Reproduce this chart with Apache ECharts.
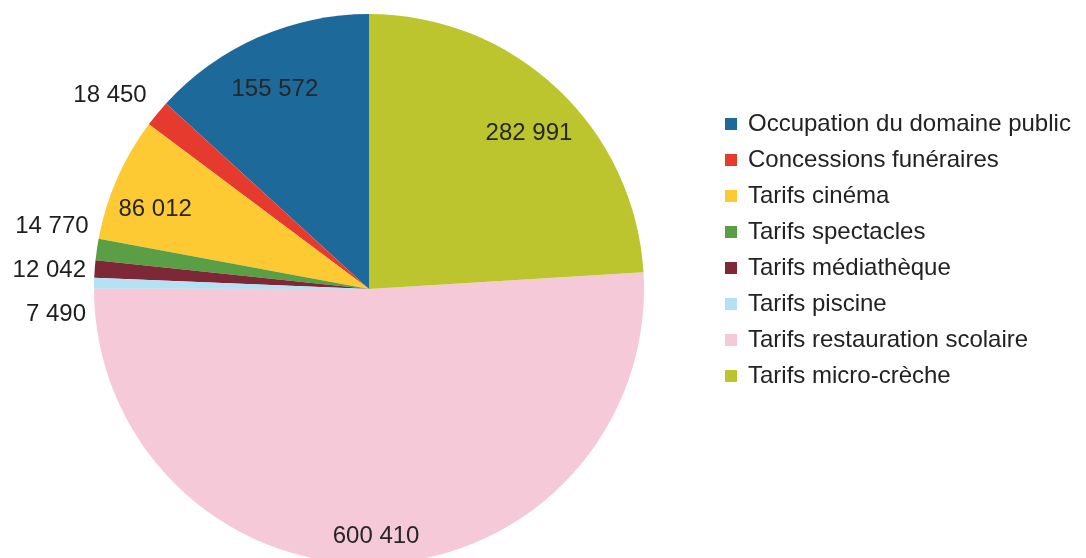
<!DOCTYPE html>
<html>
<head>
<meta charset="utf-8">
<script src="https://cdn.jsdelivr.net/npm/echarts@6/dist/echarts.min.js"></script>
<style>
  html, body { margin: 0; padding: 0; background: #ffffff; }
  #chart { width: 1086px; height: 558px; }
</style>
</head>
<body>
<div id="chart"></div>
<script>
// Recettes tarifaires par poste (en euros)
const categories = [
  'Occupation du domaine public',
  'Concessions funéraires',
  'Tarifs cinéma',
  'Tarifs spectacles',
  'Tarifs médiathèque',
  'Tarifs piscine',
  'Tarifs restauration scolaire',
  'Tarifs micro-crèche'
];
const values = [155572, 18450, 86012, 14770, 12042, 7490, 600410, 282991];
const colors = ['#1d6a9a', '#e63a2e', '#fdca33', '#5a9f46', '#7d2737', '#b5e1f5', '#f6c9d8', '#bcc52d'];
// Large slices carry their value inside, small ones outside
const insideLabel = [true, false, true, false, false, false, true, true];

const fmt = v => String(v).replace(/\B(?=(\d{3})+(?!\d))/g, ' ');
const font = '"Liberation Sans", Arial, sans-serif';

const chart = echarts.init(document.getElementById('chart'), null, { renderer: 'canvas' });

// Main pie: slices plus the outer value labels
const pieData = categories.map((name, i) => {
  const item = {
    name,
    value: values[i],
    itemStyle: { color: colors[i] }
  };
  if (insideLabel[i]) {
    item.label = { show: false };
  } else {
    const stacked = i !== 1;
    item.label = {
      show: true,
      position: 'outside',
      // tall line boxes keep the small left-hand labels well apart
      lineHeight: stacked ? 42 : 24,
      offset: stacked ? [0, -22] : [8, -3]
    };
    item.labelLine = { show: false, length: stacked ? 8 : 24, length2: 0 };
  }
  return item;
});

// Transparent ring used only to place the inner value labels near the rim
const ringData = categories.map((name, i) => ({
  name,
  value: values[i],
  itemStyle: { color: 'rgba(0,0,0,0)' },
  label: { show: insideLabel[i] }
}));

chart.setOption({
  backgroundColor: '#ffffff',
  animation: false,
  color: colors,
  legend: {
    orient: 'vertical',
    left: 720,
    top: 107,
    icon: 'rect',
    itemWidth: 12,
    itemHeight: 12,
    itemGap: 12,
    selectedMode: false,
    data: categories,
    textStyle: {
      fontFamily: font,
      fontSize: 24,
      lineHeight: 24,
      color: '#222222',
      padding: [0, 0, 0, 6]
    }
  },
  series: [
    {
      type: 'pie',
      center: [369, 289],
      radius: [0, 275],
      startAngle: 90,
      clockwise: false,
      avoidLabelOverlap: true,
      silent: true,
      itemStyle: { borderWidth: 0 },
      label: {
        fontFamily: font,
        fontSize: 24,
        color: '#1e1e1e',
        distanceToLabelLine: 0,
        formatter: p => fmt(p.value)
      },
      labelLine: { show: false },
      data: pieData
    },
    {
      type: 'pie',
      center: [369, 289],
      radius: [186, 275],
      startAngle: 90,
      clockwise: false,
      silent: true,
      avoidLabelOverlap: false,
      legendHoverLink: false,
      itemStyle: { borderWidth: 0 },
      label: {
        position: 'inside',
        offset: [0, 14],
        fontFamily: font,
        fontSize: 24,
        color: '#262626',
        formatter: p => fmt(p.value)
      },
      labelLine: { show: false },
      data: ringData
    }
  ]
});
</script>
</body>
</html>
